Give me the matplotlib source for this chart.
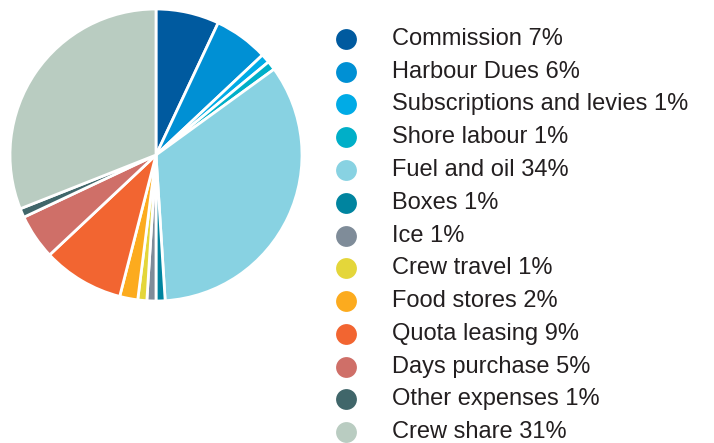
import matplotlib
matplotlib.use("Agg")
import matplotlib.pyplot as plt
from matplotlib.lines import Line2D

categories = ["Commission", "Harbour Dues", "Subscriptions and levies", "Shore labour",
              "Fuel and oil", "Boxes", "Ice", "Crew travel", "Food stores",
              "Quota leasing", "Days purchase", "Other expenses", "Crew share"]
values = [7, 6, 1, 1, 34, 1, 1, 1, 2, 9, 5, 1, 31]
colors = ["#005A9F", "#0090D4", "#00ABE6", "#00AFC8", "#88D2E2", "#00849F",
          "#7F8C99", "#E4D63A", "#FCAB1E", "#F26531", "#CF6F68", "#40666A", "#B9CCC1"]

W, H = 714, 443
fig = plt.figure(figsize=(W / 100, H / 100), dpi=100)
cx, cy, r = 156, 155, 146
ax = fig.add_axes([(cx - r) / W, (H - cy - r) / H, 2 * r / W, 2 * r / H])
ax.pie(values, colors=colors, startangle=90, counterclock=False, radius=1,
       wedgeprops=dict(edgecolor="white", linewidth=2))
ax.set_xlim(-1, 1)
ax.set_ylim(-1, 1)
ax.set_aspect("auto")
ax.axis("off")

y0, dy = 39, 32.75
for i, (c, v, col) in enumerate(zip(categories, values, colors)):
    y = y0 + i * dy
    fig.add_artist(Line2D([346 / W], [1 - y / H], marker="o", markersize=15,
                          color=col, markeredgewidth=0, transform=fig.transFigure))
    fig.text(392 / W, 1 - y / H, f"{c} {v}%", fontsize=17, family="Liberation Sans",
             color="#231F20", va="center", ha="left")

fig.savefig("out.png", dpi=100)
